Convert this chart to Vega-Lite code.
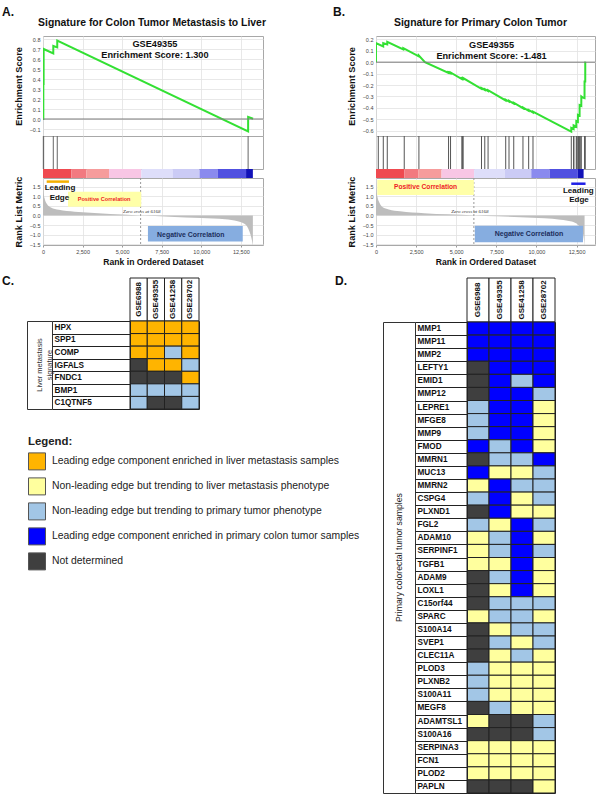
{
  "$schema": "https://vega.github.io/schema/vega-lite/v6.json",
  "autosize": {"type": "none"},
  "padding": {"left": 27, "top": 36, "right": 573, "bottom": 765},
  "background": "white",
  "config": {
    "view": {"stroke": null},
    "font": "Liberation Sans",
    "text": {"font": "Liberation Sans"},
    "title": {"font": "Liberation Sans", "color": "#111"},
    "axis": {"labelFont": "Liberation Sans", "labelFontSize": 5.5, "labelColor": "#444", "labelOverlap": false, "labelFlush": false, "titleFont": "Liberation Sans", "titleFontWeight": "bold", "titleColor": "#111", "titleFontSize": 9.2, "gridColor": "#e2e2e2", "gridWidth": 0.8, "domain": false, "ticks": false, "labelPadding": 3}
  },
  "datasets": {
    "esA": [{"rank":0,"es":0},{"rank":20,"es":0},{"rank":21,"es":0.35},{"rank":40,"es":0.35},{"rank":41,"es":0.70},{"rank":650,"es":0.655},{"rank":651,"es":0.73},{"rank":900,"es":0.716},{"rank":901,"es":0.783},{"rank":12960,"es":-0.124},{"rank":12961,"es":0.02},{"rank":13275,"es":0.003}],
    "esB": [{"rank":0,"es":0},{"rank":1,"es":0.166},{"rank":450,"es":0.137},{"rank":451,"es":0.166},{"rank":700,"es":0.155},{"rank":701,"es":0.178},{"rank":1700,"es":0.112},{"rank":1701,"es":0.122},{"rank":2670,"es":0.05},{"rank":2671,"es":0.058},{"rank":3050,"es":0.0},{"rank":4520,"es":-0.095},{"rank":4521,"es":-0.088},{"rank":4640,"es":-0.098},{"rank":4641,"es":-0.09},{"rank":5350,"es":-0.148},{"rank":5351,"es":-0.14},{"rank":5430,"es":-0.147},{"rank":5431,"es":-0.139},{"rank":6570,"es":-0.233},{"rank":6571,"es":-0.226},{"rank":6780,"es":-0.243},{"rank":6781,"es":-0.236},{"rank":6980,"es":-0.252},{"rank":6981,"es":-0.245},{"rank":8080,"es":-0.335},{"rank":8081,"es":-0.328},{"rank":8290,"es":-0.345},{"rank":8291,"es":-0.338},{"rank":8580,"es":-0.362},{"rank":8581,"es":-0.355},{"rank":9160,"es":-0.403},{"rank":9161,"es":-0.396},{"rank":9510,"es":-0.425},{"rank":9511,"es":-0.418},{"rank":9780,"es":-0.44},{"rank":9781,"es":-0.433},{"rank":10820,"es":-0.51},{"rank":12170,"es":-0.607},{"rank":12171,"es":-0.575},{"rank":12316,"es":-0.585},{"rank":12317,"es":-0.553},{"rank":12484,"es":-0.565},{"rank":12485,"es":-0.515},{"rank":12584,"es":-0.522},{"rank":12585,"es":-0.46},{"rank":12690,"es":-0.467},{"rank":12691,"es":-0.375},{"rank":12796,"es":-0.382},{"rank":12797,"es":-0.3},{"rank":12894,"es":-0.31},{"rank":12998,"es":-0.315},{"rank":12999,"es":-0.17},{"rank":13042,"es":-0.17},{"rank":13043,"es":0.0},{"rank":13060,"es":0.005}],
    "hitsA": [{"rank":20},{"rank":41},{"rank":650},{"rank":901},{"rank":12960}],
    "hitsB": [{"rank":143},{"rank":454},{"rank":703},{"rank":1760},{"rank":2675},{"rank":4522},{"rank":4646},{"rank":5350},{"rank":5400},{"rank":5430},{"rank":6575},{"rank":6780},{"rank":6985},{"rank":8085},{"rank":8290},{"rank":8585},{"rank":9160},{"rank":9515},{"rank":9785},{"rank":12172},{"rank":12316},{"rank":12335},{"rank":12484},{"rank":12520},{"rank":12584},{"rank":12625},{"rank":12690},{"rank":12730},{"rank":12796},{"rank":12999},{"rank":13043}],
    "barA": [{"start":0,"end":1790,"lvl":1},{"start":1790,"end":2740,"lvl":2},{"start":2740,"end":4170,"lvl":3},{"start":4170,"end":6210,"lvl":4},{"start":6210,"end":8210,"lvl":5},{"start":8210,"end":9890,"lvl":6},{"start":9890,"end":11050,"lvl":7},{"start":11050,"end":12830,"lvl":8},{"start":12830,"end":13260,"lvl":9}],
    "barB": [{"start":0,"end":1760,"lvl":1},{"start":1760,"end":2630,"lvl":2},{"start":2630,"end":4085,"lvl":3},{"start":4085,"end":6115,"lvl":4},{"start":6115,"end":8020,"lvl":5},{"start":8020,"end":9680,"lvl":6},{"start":9680,"end":10820,"lvl":7},{"start":10820,"end":12580,"lvl":8},{"start":12580,"end":12940,"lvl":9}],
    "rankA": [{"rank":0,"metric":1.9},{"rank":30,"metric":1.3},{"rank":100,"metric":0.9},{"rank":250,"metric":0.6},{"rank":500,"metric":0.42},{"rank":1000,"metric":0.3},{"rank":2000,"metric":0.2},{"rank":3500,"metric":0.12},{"rank":5000,"metric":0.05},{"rank":6168,"metric":0},{"rank":8000,"metric":-0.06},{"rank":10000,"metric":-0.13},{"rank":11500,"metric":-0.2},{"rank":12300,"metric":-0.3},{"rank":12750,"metric":-0.45},{"rank":13050,"metric":-0.85},{"rank":13200,"metric":-1.3},{"rank":13260,"metric":-1.6}],
    "rankB": [{"rank":0,"metric":1.9},{"rank":40,"metric":1.3},{"rank":100,"metric":0.95},{"rank":200,"metric":0.7},{"rank":400,"metric":0.45},{"rank":800,"metric":0.32},{"rank":1500,"metric":0.22},{"rank":3000,"metric":0.12},{"rank":4500,"metric":0.06},{"rank":6168,"metric":0},{"rank":7500,"metric":-0.04},{"rank":9000,"metric":-0.09},{"rank":10500,"metric":-0.15},{"rank":11500,"metric":-0.22},{"rank":12200,"metric":-0.32},{"rank":12600,"metric":-0.5},{"rank":12850,"metric":-0.8},{"rank":12950,"metric":-1.2},{"rank":13000,"metric":-1.6}],
    "colsC": [{"ds":"GSE6988"},{"ds":"GSE49355"},{"ds":"GSE41258"},{"ds":"GSE28702"}],
    "cellsC": [
      {"gene":"HPX","GSE6988":"O","GSE49355":"O","GSE41258":"O","GSE28702":"O"},
      {"gene":"SPP1","GSE6988":"O","GSE49355":"O","GSE41258":"O","GSE28702":"O"},
      {"gene":"COMP","GSE6988":"O","GSE49355":"O","GSE41258":"L","GSE28702":"O"},
      {"gene":"IGFALS","GSE6988":"G","GSE49355":"O","GSE41258":"O","GSE28702":"L"},
      {"gene":"FNDC1","GSE6988":"G","GSE49355":"G","GSE41258":"G","GSE28702":"O"},
      {"gene":"BMP1","GSE6988":"L","GSE49355":"L","GSE41258":"L","GSE28702":"L"},
      {"gene":"C1QTNF5","GSE6988":"L","GSE49355":"G","GSE41258":"G","GSE28702":"L"}
    ],
    "cellsD": [
      {"gene":"MMP1","GSE6988":"B","GSE49355":"B","GSE41258":"B","GSE28702":"B"},
      {"gene":"MMP11","GSE6988":"B","GSE49355":"B","GSE41258":"B","GSE28702":"B"},
      {"gene":"MMP2","GSE6988":"B","GSE49355":"B","GSE41258":"B","GSE28702":"B"},
      {"gene":"LEFTY1","GSE6988":"G","GSE49355":"B","GSE41258":"B","GSE28702":"B"},
      {"gene":"EMID1","GSE6988":"G","GSE49355":"B","GSE41258":"L","GSE28702":"B"},
      {"gene":"MMP12","GSE6988":"G","GSE49355":"B","GSE41258":"B","GSE28702":"L"},
      {"gene":"LEPRE1","GSE6988":"L","GSE49355":"B","GSE41258":"B","GSE28702":"Y"},
      {"gene":"MFGE8","GSE6988":"L","GSE49355":"B","GSE41258":"B","GSE28702":"Y"},
      {"gene":"MMP9","GSE6988":"L","GSE49355":"B","GSE41258":"B","GSE28702":"Y"},
      {"gene":"FMOD","GSE6988":"B","GSE49355":"L","GSE41258":"B","GSE28702":"Y"},
      {"gene":"MMRN1","GSE6988":"G","GSE49355":"L","GSE41258":"L","GSE28702":"B"},
      {"gene":"MUC13","GSE6988":"B","GSE49355":"Y","GSE41258":"Y","GSE28702":"L"},
      {"gene":"MMRN2","GSE6988":"Y","GSE49355":"B","GSE41258":"L","GSE28702":"L"},
      {"gene":"CSPG4","GSE6988":"L","GSE49355":"B","GSE41258":"Y","GSE28702":"L"},
      {"gene":"PLXND1","GSE6988":"G","GSE49355":"B","GSE41258":"Y","GSE28702":"Y"},
      {"gene":"FGL2","GSE6988":"L","GSE49355":"Y","GSE41258":"B","GSE28702":"L"},
      {"gene":"ADAM10","GSE6988":"Y","GSE49355":"L","GSE41258":"B","GSE28702":"Y"},
      {"gene":"SERPINF1","GSE6988":"Y","GSE49355":"L","GSE41258":"B","GSE28702":"L"},
      {"gene":"TGFB1","GSE6988":"Y","GSE49355":"Y","GSE41258":"B","GSE28702":"Y"},
      {"gene":"ADAM9","GSE6988":"G","GSE49355":"L","GSE41258":"B","GSE28702":"Y"},
      {"gene":"LOXL1","GSE6988":"G","GSE49355":"Y","GSE41258":"B","GSE28702":"Y"},
      {"gene":"C15orf44","GSE6988":"G","GSE49355":"L","GSE41258":"L","GSE28702":"L"},
      {"gene":"SPARC","GSE6988":"Y","GSE49355":"L","GSE41258":"L","GSE28702":"Y"},
      {"gene":"S100A14","GSE6988":"G","GSE49355":"Y","GSE41258":"L","GSE28702":"L"},
      {"gene":"SVEP1","GSE6988":"G","GSE49355":"L","GSE41258":"Y","GSE28702":"L"},
      {"gene":"CLEC11A","GSE6988":"G","GSE49355":"Y","GSE41258":"L","GSE28702":"Y"},
      {"gene":"PLOD3","GSE6988":"L","GSE49355":"Y","GSE41258":"Y","GSE28702":"Y"},
      {"gene":"PLXNB2","GSE6988":"L","GSE49355":"Y","GSE41258":"Y","GSE28702":"Y"},
      {"gene":"S100A11","GSE6988":"L","GSE49355":"Y","GSE41258":"Y","GSE28702":"Y"},
      {"gene":"MEGF8","GSE6988":"G","GSE49355":"L","GSE41258":"Y","GSE28702":"Y"},
      {"gene":"ADAMTSL1","GSE6988":"Y","GSE49355":"G","GSE41258":"G","GSE28702":"L"},
      {"gene":"S100A16","GSE6988":"G","GSE49355":"G","GSE41258":"G","GSE28702":"L"},
      {"gene":"SERPINA3","GSE6988":"Y","GSE49355":"Y","GSE41258":"Y","GSE28702":"Y"},
      {"gene":"FCN1","GSE6988":"Y","GSE49355":"Y","GSE41258":"Y","GSE28702":"Y"},
      {"gene":"PLOD2","GSE6988":"Y","GSE49355":"Y","GSE41258":"Y","GSE28702":"Y"},
      {"gene":"PAPLN","GSE6988":"G","GSE49355":"G","GSE41258":"G","GSE28702":"Y"}
    ]
  },
  "bounds": "flush",
  "spacing": 242,
  "vconcat": [
    {
      "bounds": "flush",
      "spacing": 0,
      "hconcat": [
        {"width": 16, "height": 1, "data": {"values": []}, "mark": "point"},
        {
          "bounds": "flush",
          "spacing": 333,
          "hconcat": [
            {
              "title": {"text": "A.", "anchor": "start", "frame": "group", "fontSize": 12, "fontWeight": "bold", "dx": -41, "offset": 5, "dy": 7},
              "bounds": "flush",
              "spacing": 0,
              "vconcat": [
                {
                  "width": 220, "height": 100,
                  "title": {"text": "Signature for Colon Tumor Metastasis to Liver", "anchor": "middle", "frame": "group", "fontSize": 10.4, "fontWeight": "bold", "offset": 8, "dx": -1},
                  "view": {"stroke": "#a8a8a8", "fill": "white"},
                  "layer": [
                    {"data": {"name": "esA"}, "mark": {"type": "line", "color": "#33e033", "strokeWidth": 2, "clip": true},
                     "encoding": {
                       "x": {"field": "rank", "type": "quantitative", "scale": {"domain": [0, 13900], "nice": false, "zero": false}, "axis": {"values": [0,2500,5000,7500,10000,12500], "tickCount": 20, "grid": true, "labels": false, "title": null}},
                       "y": {"field": "es", "type": "quantitative", "scale": {"domain": [-0.17, 0.83], "nice": false, "zero": false}, "axis": {"values": [-0.1,0,0.1,0.2,0.3,0.4,0.5,0.6,0.7,0.8], "tickCount": 20, "format": ".1f", "grid": true, "labelOverlap": false, "labelFlush": false, "labelBound": false, "title": "Enrichment Score", "titlePadding": 6}}
                     }},
                    {"data": {"values": [{}]}, "mark": {"type": "rule", "color": "#7a7a7a", "strokeWidth": 1}, "encoding": {"y": {"datum": 0}}},
                    {"data": {"values": [{}]}, "mark": {"type": "text", "fontSize": 9.2, "fontWeight": "bold", "baseline": "top", "lineHeight": 11, "color": "#111"}, "encoding": {"x": {"datum": 7070}, "y": {"datum": 0.795}, "text": {"value": ["GSE49355", "Enrichment Score: 1.300"]}}}
                  ]
                },
                {
                  "width": 220, "height": 33,
                  "view": {"stroke": "#a8a8a8", "fill": "white"},
                  "data": {"name": "hitsA"},
                  "mark": {"type": "rule", "color": "#666", "strokeWidth": 1},
                  "encoding": {"x": {"field": "rank", "type": "quantitative", "scale": {"domain": [0, 13900], "nice": false, "zero": false}, "axis": {"values": [0,2500,5000,7500,10000,12500], "tickCount": 20, "grid": true, "labels": false, "title": null}}}
                },
                {
                  "width": 220, "height": 9,
                  "data": {"name": "barA"},
                  "mark": {"type": "rect"},
                  "encoding": {
                    "x": {"field": "start", "type": "quantitative", "scale": {"domain": [0, 13900], "nice": false, "zero": false}, "axis": null},
                    "x2": {"field": "end"},
                    "color": {"field": "lvl", "type": "ordinal", "scale": {"domain": [1,2,3,4,5,6,7,8,9], "range": ["#ef4a50","#f27a80","#f69c9c","#f8c6e4","#dedefa","#cbcbf5","#8a8aee","#5050e0","#1212b8"]}, "legend": null}
                  }
                },
                {
                  "width": 220, "height": 67,
                  "view": {"stroke": "#a8a8a8", "fill": "white"},
                  "layer": [
                    {"data": {"name": "rankA"}, "mark": {"type": "area", "color": "#bdbdbd", "clip": true, "interpolate": "monotone"},
                     "encoding": {
                       "x": {"field": "rank", "type": "quantitative", "scale": {"domain": [0, 13900], "nice": false, "zero": false}, "axis": {"values": [0,2500,5000,7500,10000,12500], "tickCount": 20, "format": ",d", "grid": true, "labelOverlap": false, "title": "Rank in Ordered Dataset", "titleFontSize": 8.6, "labelPadding": 2, "titlePadding": 3, "ticks": true, "tickSize": 2, "tickColor": "#999"}},
                       "y": {"field": "metric", "type": "quantitative", "scale": {"domain": [-1.55, 1.97], "nice": false, "zero": false}, "axis": {"values": [-1.5,-1,-0.5,0,0.5,1,1.5], "tickCount": 20, "format": ".1f", "grid": true, "labelOverlap": false, "labelFlush": false, "labelBound": false, "title": "Rank List Metric", "titlePadding": 6}},
                       "y2": {"datum": 0}
                     }},
                    {"data": {"values": [{}]}, "mark": {"type": "rule", "color": "#999", "strokeDash": [2, 2]}, "encoding": {"x": {"datum": 6168}}},
                    {"data": {"values": [{}]}, "mark": {"type": "rect", "color": "#ffffa8"}, "encoding": {"x": {"datum": 1580}, "x2": {"datum": 6205}, "y": {"datum": 1.25}, "y2": {"datum": 0.46}}},
                    {"data": {"values": [{}]}, "mark": {"type": "rect", "color": "#86ade0"}, "encoding": {"x": {"datum": 6630}, "x2": {"datum": 12620}, "y": {"datum": -0.55}, "y2": {"datum": -1.36}}},
                    {"data": {"values": [{}]}, "mark": {"type": "rule", "color": "#f5b000", "strokeWidth": 2.5}, "encoding": {"x": {"datum": 233}, "x2": {"datum": 1640}, "y": {"datum": 1.78}}},
                    {"data": {"values": [{}]}, "mark": {"type": "text", "fontSize": 8, "fontWeight": "bold", "align": "left", "color": "#111"}, "encoding": {"x": {"datum": 107}, "y": {"datum": 1.45}, "text": {"value": "Leading"}}},
                    {"data": {"values": [{}]}, "mark": {"type": "text", "fontSize": 8, "fontWeight": "bold", "align": "left", "color": "#111"}, "encoding": {"x": {"datum": 420}, "y": {"datum": 0.9}, "text": {"value": "Edge"}}},
                    {"data": {"values": [{}]}, "mark": {"type": "text", "fontSize": 5.6, "fontWeight": "bold", "color": "#ee1c24"}, "encoding": {"x": {"datum": 3860}, "y": {"datum": 0.87}, "text": {"value": "Positive Correlation"}}},
                    {"data": {"values": [{}]}, "mark": {"type": "text", "fontSize": 5, "font": "Liberation Serif", "fontStyle": "italic", "color": "#333"}, "encoding": {"x": {"datum": 6240}, "y": {"datum": 0.24}, "text": {"value": "Zero cross at 6168"}}},
                    {"data": {"values": [{}]}, "mark": {"type": "text", "fontSize": 6.9, "fontWeight": "bold", "color": "#1c2d5c"}, "encoding": {"x": {"datum": 9340}, "y": {"datum": -1.0}, "text": {"value": "Negative Correlation"}}}
                  ]
                }
              ]
            },
            {
              "title": {"text": "B.", "anchor": "start", "frame": "group", "fontSize": 12, "fontWeight": "bold", "dx": -43, "offset": 5, "dy": 7},
              "bounds": "flush",
              "spacing": 0,
              "vconcat": [
                {
                  "width": 219, "height": 100,
                  "title": {"text": "Signature for Primary Colon Tumor", "anchor": "middle", "frame": "group", "fontSize": 10.4, "fontWeight": "bold", "offset": 8, "dx": -5},
                  "view": {"stroke": "#a8a8a8", "fill": "white"},
                  "layer": [
                    {"data": {"name": "esB"}, "mark": {"type": "line", "color": "#33e033", "strokeWidth": 2, "clip": true},
                     "encoding": {
                       "x": {"field": "rank", "type": "quantitative", "scale": {"domain": [0, 13650], "nice": false, "zero": false}, "axis": {"values": [0,2500,5000,7500,10000,12500], "tickCount": 20, "grid": true, "labels": false, "title": null}},
                       "y": {"field": "es", "type": "quantitative", "scale": {"domain": [-0.646, 0.229], "nice": false, "zero": false}, "axis": {"values": [-0.6,-0.5,-0.4,-0.3,-0.2,-0.1,0,0.1,0.2], "tickCount": 20, "format": ".1f", "grid": true, "labelOverlap": false, "labelFlush": false, "labelBound": false, "title": "Enrichment Score", "titlePadding": 6}}
                     }},
                    {"data": {"values": [{}]}, "mark": {"type": "rule", "color": "#7a7a7a", "strokeWidth": 1}, "encoding": {"y": {"datum": 0}}},
                    {"data": {"values": [{}]}, "mark": {"type": "text", "fontSize": 9.2, "fontWeight": "bold", "baseline": "top", "lineHeight": 11, "color": "#111"}, "encoding": {"x": {"datum": 7200}, "y": {"datum": 0.185}, "text": {"value": ["GSE49355", "Enrichment Score: -1.481"]}}}
                  ]
                },
                {
                  "width": 219, "height": 33,
                  "view": {"stroke": "#a8a8a8", "fill": "white"},
                  "data": {"name": "hitsB"},
                  "mark": {"type": "rule", "color": "#555", "strokeWidth": 1},
                  "encoding": {"x": {"field": "rank", "type": "quantitative", "scale": {"domain": [0, 13650], "nice": false, "zero": false}, "axis": {"values": [0,2500,5000,7500,10000,12500], "tickCount": 20, "grid": true, "labels": false, "title": null}}}
                },
                {
                  "width": 219, "height": 9,
                  "data": {"name": "barB"},
                  "mark": {"type": "rect"},
                  "encoding": {
                    "x": {"field": "start", "type": "quantitative", "scale": {"domain": [0, 13650], "nice": false, "zero": false}, "axis": null},
                    "x2": {"field": "end"},
                    "color": {"field": "lvl", "type": "ordinal", "scale": {"domain": [1,2,3,4,5,6,7,8,9], "range": ["#ef4a50","#f27a80","#f69c9c","#f8c6e4","#dedefa","#cbcbf5","#8a8aee","#5050e0","#1212b8"]}, "legend": null}
                  }
                },
                {
                  "width": 219, "height": 67,
                  "view": {"stroke": "#a8a8a8", "fill": "white"},
                  "layer": [
                    {"data": {"name": "rankB"}, "mark": {"type": "area", "color": "#bdbdbd", "clip": true, "interpolate": "monotone"},
                     "encoding": {
                       "x": {"field": "rank", "type": "quantitative", "scale": {"domain": [0, 13650], "nice": false, "zero": false}, "axis": {"values": [0,2500,5000,7500,10000,12500], "tickCount": 20, "format": ",d", "grid": true, "labelOverlap": false, "title": "Rank in Ordered Dataset", "titleFontSize": 8.6, "labelPadding": 2, "titlePadding": 3, "ticks": true, "tickSize": 2, "tickColor": "#999"}},
                       "y": {"field": "metric", "type": "quantitative", "scale": {"domain": [-1.55, 1.97], "nice": false, "zero": false}, "axis": {"values": [-1.5,-1,-0.5,0,0.5,1,1.5], "tickCount": 20, "format": ".1f", "grid": true, "labelOverlap": false, "labelFlush": false, "labelBound": false, "title": "Rank List Metric", "titlePadding": 6}},
                       "y2": {"datum": 0}
                     }},
                    {"data": {"values": [{}]}, "mark": {"type": "rule", "color": "#999", "strokeDash": [2, 2]}, "encoding": {"x": {"datum": 6100}}},
                    {"data": {"values": [{}]}, "mark": {"type": "rect", "color": "#ffffa8"}, "encoding": {"x": {"datum": 80}, "x2": {"datum": 6100}, "y": {"datum": 1.87}, "y2": {"datum": 1.08}}},
                    {"data": {"values": [{}]}, "mark": {"type": "rect", "color": "#86ade0"}, "encoding": {"x": {"datum": 6160}, "x2": {"datum": 12900}, "y": {"datum": -0.54}, "y2": {"datum": -1.41}}},
                    {"data": {"values": [{}]}, "mark": {"type": "rule", "color": "#1f1fe6", "strokeWidth": 2.5}, "encoding": {"x": {"datum": 12170}, "x2": {"datum": 13060}, "y": {"datum": 1.67}}},
                    {"data": {"values": [{}]}, "mark": {"type": "text", "fontSize": 8, "fontWeight": "bold", "color": "#111"}, "encoding": {"x": {"datum": 12610}, "y": {"datum": 1.3}, "text": {"value": "Leading"}}},
                    {"data": {"values": [{}]}, "mark": {"type": "text", "fontSize": 8, "fontWeight": "bold", "color": "#111"}, "encoding": {"x": {"datum": 12650}, "y": {"datum": 0.8}, "text": {"value": "Edge"}}},
                    {"data": {"values": [{}]}, "mark": {"type": "text", "fontSize": 6.7, "fontWeight": "bold", "color": "#ee1c24"}, "encoding": {"x": {"datum": 3090}, "y": {"datum": 1.5}, "text": {"value": "Positive Correlation"}}},
                    {"data": {"values": [{}]}, "mark": {"type": "text", "fontSize": 5, "font": "Liberation Serif", "fontStyle": "italic", "color": "#333"}, "encoding": {"x": {"datum": 5850}, "y": {"datum": 0.25}, "text": {"value": "Zero cross at 6168"}}},
                    {"data": {"values": [{}]}, "mark": {"type": "text", "fontSize": 7, "fontWeight": "bold", "color": "#1c2d5c"}, "encoding": {"x": {"datum": 9535}, "y": {"datum": -0.97}, "text": {"value": "Negative Correlation"}}}
                  ]
                }
              ]
            }
          ]
        }
      ]
    },
    {
      "bounds": "flush",
      "spacing": 356,
      "hconcat": [
        {
          "title": {"text": "C.", "anchor": "start", "frame": "group", "fontSize": 12, "fontWeight": "bold", "dx": -25, "offset": 0, "dy": 10},
          "bounds": "flush",
          "spacing": 43,
          "vconcat": [
            {
              "bounds": "flush",
              "spacing": 0,
              "hconcat": [
                {"width": 103, "height": 43, "data": {"values": []}, "mark": "point"},
                {
                  "width": 69, "height": 43,
                  "data": {"name": "colsC"},
                  "layer": [
                    {"mark": {"type": "rect", "fill": "white", "stroke": "#222", "strokeWidth": 1},
                     "encoding": {"x": {"field": "ds", "type": "nominal", "scale": {"domain": ["GSE6988","GSE49355","GSE41258","GSE28702"], "paddingInner": 0, "paddingOuter": 0}, "axis": null}}},
                    {"mark": {"type": "text", "angle": 270, "fontSize": 8, "fontWeight": "bold", "color": "#111"},
                     "encoding": {"x": {"field": "ds", "type": "nominal"}, "text": {"field": "ds"}}}
                  ]
                }
              ]
            },
            {
              "bounds": "flush",
              "spacing": 0,
              "hconcat": [
                {"width": 25, "height": 88, "view": {"stroke": "#333"}, "data": {"values": [{}]},
                 "mark": {"type": "text", "angle": 270, "fontSize": 7.4, "color": "#333", "lineHeight": 10},
                 "encoding": {"text": {"value": ["Liver metastasis", "signature"]}}},
                {"width": 78, "height": 88, "data": {"values": []}, "mark": "point"},
                {
                  "width": 69, "height": 88,
                  "view": {"stroke": "#222"},
                  "data": {"name": "cellsC"},
                  "transform": [{"fold": ["GSE6988","GSE49355","GSE41258","GSE28702"], "as": ["ds","code"]}],
                  "mark": {"type": "rect", "stroke": "#222", "strokeWidth": 1},
                  "encoding": {
                    "x": {"field": "ds", "type": "nominal", "scale": {"domain": ["GSE6988","GSE49355","GSE41258","GSE28702"], "paddingInner": 0, "paddingOuter": 0}, "axis": null},
                    "y": {"field": "gene", "type": "nominal", "sort": null, "scale": {"paddingInner": 0, "paddingOuter": 0},
                          "axis": {"title": null, "domain": true, "domainColor": "#222", "ticks": true, "tickBand": "extent", "tickSize": 78, "tickColor": "#222", "tickWidth": 1, "labelAlign": "left", "labelBaseline": "middle", "labelPadding": -2, "labelFontSize": 8.2, "labelFontWeight": "bold", "labelColor": "#111", "grid": false}},
                    "fill": {"field": "code", "type": "nominal",
                             "scale": {"domain": ["O","Y","L","B","G"], "range": ["#ffb400","#ffff9e","#a2c6e6","#0000ff","#3f3f3f"]},
                             "legend": {"title": "Legend:", "orient": "none", "legendX": 1, "legendY": 400, "direction": "vertical", "symbolType": "square", "symbolSize": 289, "symbolStrokeColor": "#555", "symbolStrokeWidth": 1, "symbolOpacity": 1, "labelFontSize": 10.4, "labelColor": "#222", "labelFont": "Liberation Sans", "labelLimit": 400, "titleFontSize": 11.4, "titleFontWeight": "bold", "titleColor": "#222", "titleFont": "Liberation Sans", "titlePadding": 5, "rowPadding": 3, "labelOffset": 6,
                                        "labelExpr": "datum.value == 'O' ? 'Leading edge component enriched in liver metastasis samples' : datum.value == 'Y' ? 'Non-leading edge but trending to liver metastasis phenotype' : datum.value == 'L' ? 'Non-leading edge but trending to primary tumor phenotype' : datum.value == 'B' ? 'Leading edge component enriched in primary colon tumor samples' : 'Not determined'"}}
                  }
                }
              ]
            }
          ]
        },
        {
          "title": {"text": "D.", "anchor": "start", "frame": "group", "fontSize": 12, "fontWeight": "bold", "dx": -48, "offset": 0, "dy": 10},
          "bounds": "flush",
          "spacing": 44,
          "vconcat": [
            {
              "bounds": "flush",
              "spacing": 0,
              "hconcat": [
                {"width": 84, "height": 44, "data": {"values": []}, "mark": "point"},
                {
                  "width": 88, "height": 44,
                  "data": {"name": "colsC"},
                  "layer": [
                    {"mark": {"type": "rect", "fill": "white", "stroke": "#222", "strokeWidth": 1},
                     "encoding": {"x": {"field": "ds", "type": "nominal", "scale": {"domain": ["GSE6988","GSE49355","GSE41258","GSE28702"], "paddingInner": 0, "paddingOuter": 0}, "axis": null}}},
                    {"mark": {"type": "text", "angle": 270, "fontSize": 8, "fontWeight": "bold", "color": "#111"},
                     "encoding": {"x": {"field": "ds", "type": "nominal"}, "text": {"field": "ds"}}}
                  ]
                }
              ]
            },
            {
              "bounds": "flush",
              "spacing": 0,
              "hconcat": [
                {"width": 32, "height": 471, "view": {"stroke": "#333"}, "data": {"values": [{}]},
                 "mark": {"type": "text", "angle": 270, "fontSize": 8.7, "color": "#222"},
                 "encoding": {"text": {"value": "Primary colorectal tumor samples"}}},
                {"width": 52, "height": 471, "data": {"values": []}, "mark": "point"},
                {
                  "width": 88, "height": 471,
                  "view": {"stroke": "#222"},
                  "data": {"name": "cellsD"},
                  "transform": [{"fold": ["GSE6988","GSE49355","GSE41258","GSE28702"], "as": ["ds","code"]}],
                  "mark": {"type": "rect", "stroke": "#222", "strokeWidth": 1},
                  "encoding": {
                    "x": {"field": "ds", "type": "nominal", "scale": {"domain": ["GSE6988","GSE49355","GSE41258","GSE28702"], "paddingInner": 0, "paddingOuter": 0}, "axis": null},
                    "y": {"field": "gene", "type": "nominal", "sort": null, "scale": {"paddingInner": 0, "paddingOuter": 0},
                          "axis": {"title": null, "domain": true, "domainColor": "#222", "ticks": true, "tickBand": "extent", "tickSize": 52, "tickColor": "#222", "tickWidth": 1, "labelAlign": "left", "labelBaseline": "middle", "labelPadding": -2, "labelFontSize": 8.2, "labelFontWeight": "bold", "labelColor": "#111", "grid": false}},
                    "fill": {"field": "code", "type": "nominal",
                             "scale": {"domain": ["O","Y","L","B","G"], "range": ["#ffb400","#ffff9e","#a2c6e6","#0000ff","#3f3f3f"]},
                             "legend": {"title": "Legend:", "orient": "none", "legendX": 1, "legendY": 400, "direction": "vertical", "symbolType": "square", "symbolSize": 289, "symbolStrokeColor": "#555", "symbolStrokeWidth": 1, "symbolOpacity": 1, "labelFontSize": 10.4, "labelColor": "#222", "labelFont": "Liberation Sans", "labelLimit": 400, "titleFontSize": 11.4, "titleFontWeight": "bold", "titleColor": "#222", "titleFont": "Liberation Sans", "titlePadding": 5, "rowPadding": 3, "labelOffset": 6,
                                        "labelExpr": "datum.value == 'O' ? 'Leading edge component enriched in liver metastasis samples' : datum.value == 'Y' ? 'Non-leading edge but trending to liver metastasis phenotype' : datum.value == 'L' ? 'Non-leading edge but trending to primary tumor phenotype' : datum.value == 'B' ? 'Leading edge component enriched in primary colon tumor samples' : 'Not determined'"}}
                  }
                }
              ]
            }
          ]
        }
      ]
    }
  ]
}
